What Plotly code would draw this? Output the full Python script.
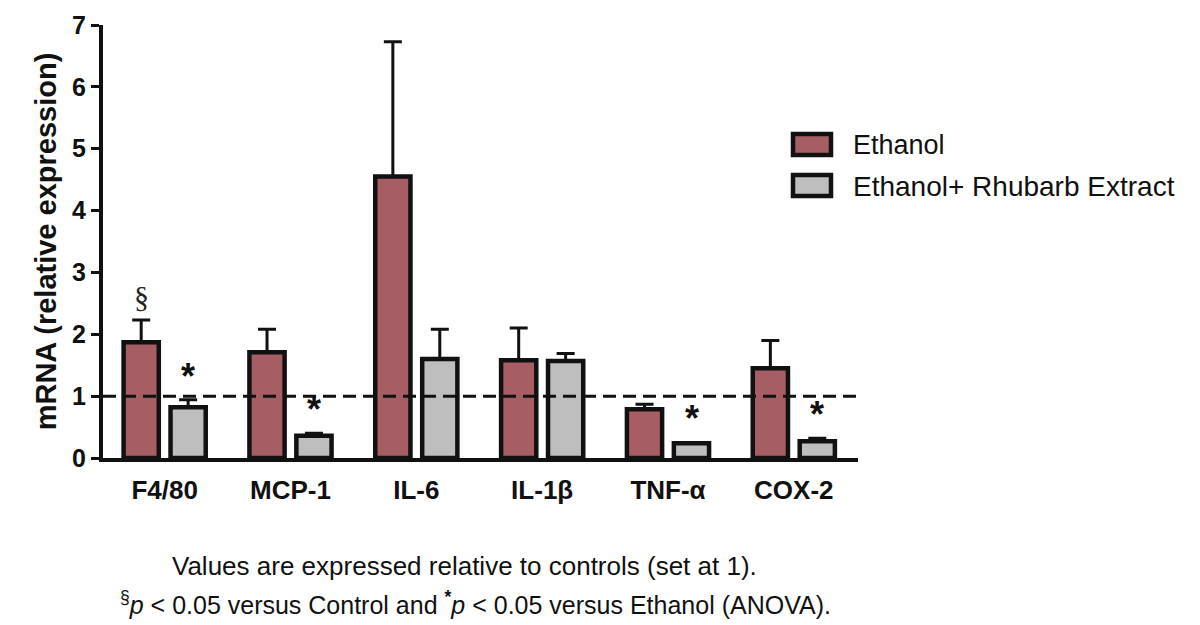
import plotly.graph_objects as go

categories = ["F4/80", "MCP-1", "IL-6", "IL-1β", "TNF-α", "COX-2"]
ethanol = [1.87, 1.71, 4.55, 1.58, 0.79, 1.45]
ethanol_err = [0.36, 0.37, 2.18, 0.52, 0.08, 0.45]
rhubarb = [0.82, 0.36, 1.60, 1.57, 0.24, 0.27]
rhubarb_err = [0.12, 0.04, 0.48, 0.12, 0.01, 0.05]
star_flags = [True, True, False, False, True, True]
section_flags = [True, False, False, False, False, False]
yticks = [0, 1, 2, 3, 4, 5, 6, 7]

W, H = 1200, 625
L, R, T, B = 103, 342, 25, 167

def px(x):
    return (x - L) / (W - L - R)

def py(y):
    return (H - B - y) / (H - B - T)

FONT = "Arial, Liberation Sans, sans-serif"
RED = "#A65E64"
GRAY = "#BEBEBE"

fig = go.Figure()
fig.add_trace(go.Bar(
    x=categories, y=ethanol, name="Ethanol",
    marker=dict(color=RED, line=dict(color="#111111", width=4.5)),
    error_y=dict(type="data", symmetric=False, array=ethanol_err,
                 arrayminus=[0] * len(ethanol), color="#111111",
                 thickness=3, width=9),
))
fig.add_trace(go.Bar(
    x=categories, y=rhubarb, name="Ethanol+ Rhubarb Extract",
    marker=dict(color=GRAY, line=dict(color="#111111", width=4.5)),
    error_y=dict(type="data", symmetric=False, array=rhubarb_err,
                 arrayminus=[0] * len(rhubarb), color="#111111",
                 thickness=3, width=9),
))

annotations = []
for i, c in enumerate(categories):
    if star_flags[i]:
        annotations.append(dict(
            x=i + 0.187, y=rhubarb[i] + rhubarb_err[i] + 0.02, xref="x", yref="y",
            text="<b>*</b>", showarrow=False, yanchor="bottom",
            font=dict(family=FONT, size=36, color="#111111")))
    if section_flags[i]:
        annotations.append(dict(
            x=i - 0.187, y=ethanol[i] + ethanol_err[i] + 0.08, xref="x", yref="y",
            text="§", showarrow=False, yanchor="bottom",
            font=dict(family="Liberation Serif, Times New Roman, serif", size=30, color="#222222")))

# legend (manual)
shapes = [
    dict(type="line", xref="paper", yref="y", x0=0, x1=1, y0=1, y1=1,
         line=dict(color="#111111", width=3, dash="13px,7px")),
    dict(type="rect", xref="paper", yref="paper", x0=px(793), x1=px(831), y0=py(134), y1=py(155),
         fillcolor=RED, line=dict(color="#111111", width=4.5)),
    dict(type="rect", xref="paper", yref="paper", x0=px(793), x1=px(831), y0=py(175), y1=py(196),
         fillcolor=GRAY, line=dict(color="#111111", width=4.5)),
]
annotations += [
    dict(x=px(851), y=py(145), xref="paper", yref="paper", text="Ethanol",
         showarrow=False, xanchor="left", yanchor="middle",
         font=dict(family=FONT, size=27, color="#111111")),
    dict(x=px(851), y=py(186), xref="paper", yref="paper", text="Ethanol+ Rhubarb Extract",
         showarrow=False, xanchor="left", yanchor="middle",
         font=dict(family=FONT, size=28, color="#111111")),
    dict(x=px(464), y=py(566), xref="paper", yref="paper",
         text="Values are expressed relative to controls (set at 1).",
         showarrow=False, xanchor="center", yanchor="middle",
         font=dict(family=FONT, size=26, color="#111111")),
    dict(x=px(475), y=py(603), xref="paper", yref="paper",
         text="<sup>§</sup><i>p</i> &lt; 0.05 versus Control and <sup><b>*</b></sup><i>p</i> &lt; 0.05 versus Ethanol (ANOVA).",
         showarrow=False, xanchor="center", yanchor="middle",
         font=dict(family=FONT, size=25, color="#111111")),
]

fig.update_layout(
    width=W, height=H,
    margin=dict(l=L, r=R, t=T, b=B, pad=0),
    paper_bgcolor="white", plot_bgcolor="white",
    barmode="group", bargap=0.254, bargroupgap=0.25,
    showlegend=False,
    shapes=shapes, annotations=annotations,
    font=dict(family=FONT, color="#111111"),
)
fig.update_xaxes(
    range=[-0.49, 5.51], showgrid=False, zeroline=False,
    showline=True, linecolor="#111111", linewidth=4,
    ticks="", ticklabelstandoff=6,
    tickfont=dict(family=FONT, size=26, color="#111111", weight="bold"),
)
fig.update_yaxes(
    range=[0, 7], tickvals=yticks, showgrid=False, zeroline=False,
    showline=True, linecolor="#111111", linewidth=4,
    ticks="outside", ticklen=8, tickwidth=3, tickcolor="#111111",
    tickfont=dict(family=FONT, size=25, color="#111111", weight="bold"),
    title=dict(text="mRNA (relative expression)", standoff=8,
               font=dict(family=FONT, size=29, color="#111111", weight="bold")),
)

fig.write_html("out.html", config={"displayModeBar": False},
               post_script="document.body.style.margin='0px';")
